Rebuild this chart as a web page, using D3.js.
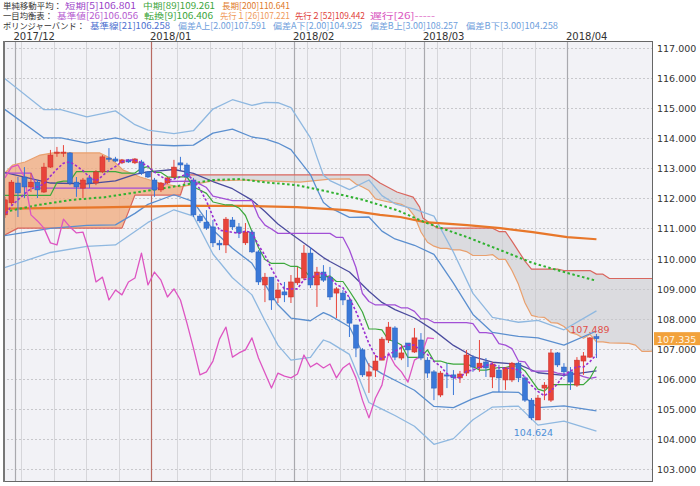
<!DOCTYPE html>
<html><head><meta charset="utf-8">
<script src="https://cdn.jsdelivr.net/npm/d3@7"></script>
<style>
body{margin:0;background:#fff;}
svg{display:block;font-family:"Noto Sans CJK JP","Noto Sans",sans-serif;}
</style></head><body>
<svg id="c" width="700" height="486"></svg>
<script>
// ---------------- data ----------------
const monthLabels = ["2017/12","2018/01","2018/02","2018/03","2018/04"];
const monthStart = [2, 23, 45, 65, 87];
const weekStart = [3, 8, 13, 18, 27, 32, 37, 42, 47, 52, 57, 62, 67, 72, 77, 82];
const yTicks = [103,104,105,106,107,108,109,110,111,112,113,114,115,116,117];

const open = [111.45,111.85,112.51,112.71,112.38,112.54,112.21,113.04,113.51,113.51,113.51,112.54,112.34,112.68,112.51,112.88,113.34,113.31,113.18,113.28,113.18,113.21,112.88,112.61,112.28,112.51,112.71,113.18,113.11,112.61,111.41,111.21,111.05,110.51,110.45,111.28,111.05,110.52,110.88,110.22,109.12,109.38,108.69,108.89,108.72,109.19,109.35,110.18,109.12,109.55,109.38,108.85,108.85,108.62,107.79,106.96,106.09,106.29,106.62,107.29,107.69,106.69,107.19,106.89,107.29,106.62,106.23,105.46,106.13,106.13,106.03,106.19,106.72,106.36,106.56,106.06,106.29,105.96,105.96,106.52,106.03,105.29,104.63,105.69,105.29,106.86,106.39,106.23,105.79,106.59,106.72,107.40];
const high = [112.05,112.61,112.71,113.04,112.84,112.61,113.18,113.61,113.71,113.77,113.54,112.71,112.68,112.78,112.94,113.44,113.67,113.38,113.31,113.31,113.34,113.28,112.91,112.68,112.54,112.71,113.28,113.38,113.18,112.68,111.48,111.61,111.28,110.61,111.38,111.38,111.18,111.18,110.95,110.28,109.52,109.38,109.19,109.22,109.45,109.72,110.45,110.38,109.72,109.78,109.72,109.05,108.95,108.72,107.79,107.02,106.52,106.79,107.39,107.89,107.75,107.12,107.19,107.69,107.52,106.72,106.29,106.26,106.52,106.29,106.26,106.96,106.79,107.29,106.69,106.56,106.46,106.39,106.56,106.56,106.09,105.36,105.46,105.89,106.99,106.89,106.52,106.39,106.72,106.89,107.39,107.489];
const low = [111.35,111.78,111.38,112.01,112.21,112.01,112.18,113.01,113.38,113.38,112.44,112.05,112.01,112.34,112.44,112.84,113.21,113.21,113.14,113.18,113.14,112.78,112.68,112.05,112.21,112.48,112.68,112.94,112.68,111.38,111.18,110.95,110.38,110.28,110.18,110.95,110.68,110.45,110.18,109.12,108.55,108.29,108.52,108.55,108.52,109.12,109.28,109.02,108.39,109.22,108.62,108.02,108.45,107.39,106.72,106.06,105.53,106.06,106.62,107.19,106.62,106.62,106.39,106.86,106.62,106.03,105.29,105.39,105.69,105.46,105.86,106.09,106.23,106.23,106.06,105.69,105.56,105.63,105.89,105.89,105.23,104.624,104.63,105.29,105.23,106.39,106.06,105.63,105.73,106.13,106.69,106.69];
const close = [111.95,112.54,112.18,112.38,112.54,112.28,113.04,113.44,113.54,113.54,112.51,112.38,112.61,112.51,112.88,113.38,113.31,113.24,113.28,113.21,113.31,112.84,112.71,112.28,112.51,112.68,113.04,113.11,112.71,111.45,111.25,111.01,110.52,110.45,111.31,111.05,110.85,110.88,110.22,109.22,109.38,108.62,108.95,108.79,109.22,109.35,110.18,109.12,109.55,109.28,108.72,108.99,108.62,107.85,107.02,106.13,106.23,106.59,107.32,107.72,106.72,106.86,106.96,107.36,106.69,106.19,105.69,106.19,106.09,106.03,106.16,106.79,106.39,106.52,106.36,106.49,106.03,106.36,106.52,106.03,105.29,104.70,105.36,105.79,106.86,106.46,106.23,105.89,106.62,106.76,107.36,107.335];
const chikouShift = 25;
const hiLabelIdx = 91, loLabelIdx = 81;

// indicator readings: [candle index, price]
const sma5 = [[0.2,111.5],[1,111.75],[2,111.95],[3,112.15],[4,112.32],[5,112.38],[6,112.48],[7,112.74],[8,112.97],[9,113.17],[10,113.21],[11,113.08],[12,112.92],[13,112.71],[14,112.58],[15,112.75],[16,112.94],[17,113.06],[18,113.22],[19,113.28],[20,113.27],[21,113.18],[22,113.07],[23,112.87],[24,112.73],[25,112.60],[26,112.64],[27,112.72],[28,112.81],[29,112.60],[30,112.31],[31,111.91],[32,111.39],[33,110.94],[34,110.91],[35,110.87],[36,110.84],[37,110.91],[38,110.86],[39,110.44],[40,110.11],[41,109.66],[42,109.28],[43,108.99],[44,108.99],[45,108.99],[46,109.30],[47,109.33],[48,109.48],[49,109.50],[50,109.37],[51,109.13],[52,109.03],[53,108.69],[54,108.24],[55,107.72],[56,107.17],[57,106.76],[58,106.66],[59,106.80],[60,106.92],[61,107.04],[62,107.12],[63,107.12],[64,106.92],[65,106.81],[66,106.58],[67,106.42],[68,106.17],[69,106.04],[70,106.03],[71,106.25],[72,106.29],[73,106.38],[74,106.44],[75,106.51],[76,106.36],[77,106.35],[78,106.35],[79,106.29],[80,106.05],[81,105.78],[82,105.58],[83,105.43],[84,105.60],[85,105.83],[86,106.14],[87,106.25],[88,106.41],[89,106.39],[90,106.57],[91,106.80]];
const sma89 = [[0,111.55],[5.1,111.78],[10.3,111.95],[15.4,112.04],[20.5,112.21],[25.7,112.38],[32,112.61],[36.2,112.64],[39.7,112.54],[44.9,112.44],[50,112.21],[55.1,111.95],[60.3,111.61],[64.9,111.18],[71.1,110.71],[76.2,110.28],[81.2,109.85],[86.5,109.52],[91,109.26]];
const sma200 = [[0,111.66],[14.6,111.70],[26.9,111.75],[37.2,111.75],[44.9,111.71],[52.6,111.61],[57.7,111.45],[60.8,111.38],[64.6,111.21],[71.1,111.11],[76.2,111.01],[81.2,110.88],[86.5,110.71],[91,110.64]];
const tenkan = [[0,112.1],[7,112.1],[8,112.53],[9,112.575],[10,112.575],[11,112.89],[17,112.89],[18,112.84],[20,112.84],[21,113.005],[22,113.055],[23,112.86],[24,112.86],[25,112.715],[26,112.695],[27,112.715],[28,112.715],[29,112.38],[30,112.28],[31,112.165],[32,111.88],[33,111.83],[34,111.78],[35,111.78],[36,111.68],[37,111.43],[38,110.895],[39,110.365],[40,109.965],[41,109.835],[43,109.835],[44,109.735],[45,109.735],[46,109.62],[47,109.37],[49,109.37],[50,109.42],[51,109.235],[52,109.235],[53,108.92],[54,108.585],[55,108.22],[56,107.655],[57,107.655],[58,107.625],[59,107.29],[60,107.24],[61,107.125],[62,106.71],[64,106.71],[65,106.96],[66,106.59],[67,106.59],[68,106.52],[69,106.49],[71,106.49],[72,106.405],[73,106.29],[74,106.29],[75,106.34],[76,106.375],[77,106.375],[78,106.425],[79,106.425],[80,106.26],[81,105.957],[82,105.657],[83,105.592],[84,105.807],[89,105.807],[90,106.01],[91,106.406]];
const kijun = [[0,112.84],[4,112.84],[5,112.34],[24,112.34],[25,112.56],[29,112.575],[30,112.475],[31,112.36],[32,112.075],[33,112.025],[34,111.975],[35,111.925],[38,111.925],[39,111.395],[40,111.11],[41,110.98],[42,110.835],[50,110.835],[51,110.70],[52,110.70],[53,110.285],[54,109.70],[55,108.835],[56,108.57],[57,108.455],[60,108.455],[61,108.355],[62,108.355],[63,108.24],[64,107.99],[65,107.99],[66,107.87],[71,107.87],[72,107.835],[73,107.535],[74,107.535],[75,107.505],[76,107.17],[77,107.12],[78,107.005],[79,106.59],[80,106.56],[81,106.257],[84,106.257],[85,106.187],[86,106.157],[88,106.157],[89,106.07],[90,106.01],[91,106.056]];
const senkouA = [[-0.3,112.78],[1.2,113.11],[3.1,113.21],[5.4,113.44],[7.4,113.51],[14.6,113.51],[16.2,113.34],[18.2,112.94],[20.8,112.71],[23.8,112.51],[26.9,112.38],[32,112.58],[37.2,112.61],[45.4,112.54],[50,112.64],[53,112.645],[54,112.48],[55,112.38],[56,112.26],[57,111.98],[58,111.93],[59,111.88],[60,111.85],[61,111.80],[62,111.68],[63,111.41],[64,110.88],[65,110.54],[66,110.41],[67,110.335],[68,110.335],[69,110.285],[70,110.285],[71,110.23],[72,110.10],[74,110.10],[75,110.13],[76,109.97],[77,109.97],[78,109.60],[79,109.14],[80,108.53],[81,108.11],[82,108.055],[83,108.04],[84,107.87],[85,107.85],[86,107.74],[87,107.53],[88,107.475],[89,107.35],[90,107.475],[91,107.23],[92,107.23],[93,107.195],[96,107.18],[97,107.12],[98,106.91],[99,106.91],[100,106.92]];
const senkouB = [[-0.3,110.75],[2,111.01],[18,111.01],[19,111.55],[20,112.11],[27,112.11],[28,112.78],[56,112.78],[57.7,112.51],[60.3,112.21],[62.8,112.04],[63.8,111.71],[64.3,111.35],[66.5,111.01],[75,111.01],[76,110.895],[77,110.895],[78,110.58],[79,110.245],[80,109.915],[81,109.65],[85,109.65],[86,109.60],[90,109.60],[91,109.48],[92,109.48],[93,109.335],[100,109.335]];
const bbMid = [[-0.3,112.87],[7,112.51],[12.6,112.48],[17,112.58],[20,112.8],[22,112.88],[26,112.96],[29,112.83],[32,112.56],[35,112.32],[38,111.94],[40,111.56],[42,111.15],[44,110.82],[47,110.36],[48,110.19],[49,110.03],[50,109.90],[53,109.55],[56,108.91],[58,108.54],[60,108.30],[63,108.03],[66,107.61],[69,107.11],[72,106.74],[75,106.55],[79,106.48],[82,106.20],[86,106.11],[91,106.26]];
const bbUp2 = [[-0.3,115.0],[6,114.01],[8.6,114.01],[12.6,113.84],[17,114.01],[20,113.86],[22,113.79],[26,113.75],[29,113.77],[32,114.17],[35,114.30],[38,114.04],[40,113.98],[42,113.84],[44,113.62],[47,112.79],[48,112.31],[49,111.86],[50,111.69],[53,111.37],[56,111.38],[58,110.91],[60,110.65],[63,110.44],[66,110.14],[69,109.18],[72,108.14],[75,107.54],[79,107.41],[82,107.36],[86,107.12],[91,107.59]];
const bbUp3 = [[-0.3,116.03],[6,114.95],[8.6,114.95],[12.6,114.71],[17,114.91],[20,114.45],[22,114.27],[26,114.15],[29,114.25],[32,114.97],[35,115.28],[38,115.09],[40,115.19],[42,115.18],[44,115.02],[47,114.01],[48,113.37],[49,112.77],[50,112.59],[53,112.29],[56,112.61],[58,112.09],[60,111.82],[63,111.64],[66,111.41],[69,110.21],[72,108.84],[75,108.04],[79,107.88],[82,107.94],[86,107.63],[91,108.26]];
const bbDn2 = [[-0.3,110.75],[7,111.0],[12.6,111.1],[17,111.12],[20,111.5],[22,111.8],[26,112.12],[29,111.89],[32,110.95],[35,110.34],[38,109.84],[40,109.14],[42,108.46],[44,108.02],[47,107.93],[48,108.07],[49,108.20],[50,108.11],[53,107.73],[56,106.44],[58,106.17],[60,105.95],[63,105.62],[66,105.08],[69,105.04],[72,105.34],[75,105.56],[79,105.55],[82,105.04],[86,105.10],[91,104.93]];
const bbDn3 = [[-0.3,109.68],[7,110.2],[12.6,110.4],[17,110.45],[20,110.9],[22,111.2],[26,111.62],[29,111.41],[32,110.15],[35,109.36],[38,108.79],[40,107.93],[42,107.12],[44,106.62],[47,106.71],[48,107.01],[49,107.29],[50,107.21],[53,106.81],[56,105.21],[58,104.99],[60,104.78],[63,104.42],[66,103.82],[69,104.01],[72,104.64],[75,105.06],[79,105.09],[82,104.46],[86,104.59],[91,104.26]];

const legendRows = [
  [["単純移動平均：",3,62],["短期[5]106.801",65,136],["中期[89]109.261",143,215],["長期[200]110.641",222,290]],
  [["一目均衡表：",3,53],["基準値[26]106.056",57,138],["転換[9]106.406",144,213],["先行１[26]107.221",220,290],["先行２[52]109.442",295,365],["遅行[26]-----",370,435]],
  [["ボリンジャーバンド：",3,85],["基準線[21]106.258",90,170],["偏差A上[2.00]107.591",178,266],["偏差A下[2.00]104.925",273,362],["偏差B上[3.00]108.257",370,458],["偏差B下[3.00]104.258",466,558]]
];
const legendColors = [
  ["#333","#9a3fc8","#3aa53a","#e07a2a"],
  ["#333","#b55ad0","#3aa53a","#ef9a5a","#e0403a","#d955c0"],
  ["#333","#4b6fcf","#6fa0dc","#6fa0dc","#6fa0dc","#6fa0dc"]
];

// ---------------- drawing ----------------
const svg = d3.select("#c");
const L = 3, R = 653, T = 41, B = 482;
const x = d3.scaleLinear().domain([-0.3, 99.7]).range([L, R]);
const y = d3.scaleLinear().domain([103, 117]).range([469, 48]);

svg.append("rect").attr("x",0).attr("y",0).attr("width",700).attr("height",486).attr("fill","#fff");
const defs = svg.append("defs");
defs.append("clipPath").attr("id","plot").append("rect")
  .attr("x",L).attr("y",T).attr("width",R-L).attr("height",B-T);
svg.append("rect").attr("x",L).attr("y",T).attr("width",R-L).attr("height",B-T).attr("fill","#f2f2f6");

const g = svg.append("g").attr("clip-path","url(#plot)");

g.selectAll(".hg").data(yTicks).join("line")
  .attr("x1",L).attr("x2",R).attr("y1",d=>Math.round(y(d))+0.5).attr("y2",d=>Math.round(y(d))+0.5)
  .attr("stroke","#c8c8cc").attr("stroke-dasharray","2,2").attr("stroke-width",1);
g.selectAll(".wg").data(weekStart).join("line")
  .attr("x1",d=>Math.round(x(d)-3)+0.5).attr("x2",d=>Math.round(x(d)-3)+0.5).attr("y1",T).attr("y2",B)
  .attr("stroke","#d6d6da").attr("stroke-width",1);
g.selectAll(".mg").data(monthStart).join("line")
  .attr("x1",d=>Math.round(x(d)-3)+0.5).attr("x2",d=>Math.round(x(d)-3)+0.5).attr("y1",T).attr("y2",B)
  .attr("stroke",(d,i)=>i===1?"#b86a62":"#a9a9ae").attr("stroke-width",1.2);

const lineGen = d3.line().x(d=>x(d[0])).y(d=>y(d[1]));
const belowPath = pts => lineGen(pts) + `L${x(pts[pts.length-1][0])},${B+5}L${x(pts[0][0])},${B+5}Z`;
const abovePath = pts => lineGen(pts) + `L${x(pts[pts.length-1][0])},${T-5}L${x(pts[0][0])},${T-5}Z`;
defs.append("clipPath").attr("id","aboveB").append("path").attr("d",abovePath(senkouB));
defs.append("clipPath").attr("id","aboveA").append("path").attr("d",abovePath(senkouA));
g.append("g").attr("clip-path","url(#aboveB)").append("path").attr("d",belowPath(senkouA))
  .attr("fill","#f0ac82").attr("fill-opacity",0.8);
g.append("g").attr("clip-path","url(#aboveA)").append("path").attr("d",belowPath(senkouB))
  .attr("fill","#c8c8cc").attr("fill-opacity",0.55);

function drawLine(pts, color, w, dash){
  const p = g.append("path").attr("d",lineGen(pts)).attr("fill","none")
    .attr("stroke",color).attr("stroke-width",w).attr("stroke-linejoin","round");
  if(dash) p.attr("stroke-dasharray",dash);
}
drawLine(senkouA,"#e9a06e",1.2);
drawLine(senkouB,"#d9665e",1.2);
drawLine(bbUp3,"#8fb8e0",1.3);
drawLine(bbDn3,"#8fb8e0",1.3);
drawLine(bbUp2,"#5b8fcf",1.3);
drawLine(bbDn2,"#5b8fcf",1.3);
drawLine(bbMid,"#4b4c9e",1.3);
drawLine(sma200,"#e8772a",2.2);
drawLine(sma89,"#2fb12f",2,"2.5,2.5");
drawLine(kijun,"#a24fd6",1.3);
drawLine(tenkan,"#3ca83c",1.2);
const chik = close.map((c,i)=>[i-chikouShift, c]).filter(d=>d[0]>=0);
drawLine(chik,"#dd55c2",1.3);

const idx = d3.range(close.length);
const up = i => close[i] >= open[i];
const upCol = "#e8443a", dnCol = "#3a78d8";
g.selectAll(".wick").data(idx).join("line")
  .attr("x1",i=>x(i)).attr("x2",i=>x(i)).attr("y1",i=>y(high[i])).attr("y2",i=>y(low[i]))
  .attr("stroke",i=>up(i)?upCol:dnCol).attr("stroke-width",1);
g.selectAll(".body").data(idx).join("rect")
  .attr("x",i=>x(i)-2.5).attr("width",5)
  .attr("y",i=>y(Math.max(open[i],close[i])))
  .attr("height",i=>Math.max(1.2, Math.abs(y(open[i])-y(close[i]))))
  .attr("fill",i=>up(i)?upCol:dnCol).attr("stroke",i=>up(i)?"#c8302a":"#2a5fb8").attr("stroke-width",0.5);

drawLine(sma5,"#9a2fd0",1.6,"2.5,2");

svg.append("text").attr("x",x(hiLabelIdx)-6.5).attr("y",y(high[hiLabelIdx])-1).attr("text-anchor","middle")
  .attr("font-family","'DejaVu Sans',sans-serif").attr("font-size",9.5).attr("fill","#e0504a").text(high[hiLabelIdx].toFixed(3));
svg.append("text").attr("x",x(loLabelIdx)+2).attr("y",y(low[loLabelIdx])+16).attr("text-anchor","middle")
  .attr("font-family","'DejaVu Sans',sans-serif").attr("font-size",9.5).attr("fill","#4d8fd6").text(low[loLabelIdx].toFixed(3));

svg.append("rect").attr("x",L+0.5).attr("y",T+0.5).attr("width",R-L-1).attr("height",B-T-1)
  .attr("fill","none").attr("stroke","#666").attr("stroke-width",1);
svg.append("line").attr("x1",L+1).attr("x2",L+1).attr("y1",T).attr("y2",B).attr("stroke","#777").attr("stroke-width",2);

svg.selectAll(".yl").data(yTicks).join("text")
  .attr("x",657).attr("y",d=>y(d)+4).attr("fill","#333")
  .attr("font-family","'DejaVu Sans',sans-serif").attr("font-size",9.5)
  .text(d=>d.toFixed(3));
const last = close[close.length-1];
svg.append("rect").attr("x",654).attr("y",y(last)-6.5).attr("width",46).attr("height",13).attr("fill","#f2a23c");
svg.append("text").attr("x",657).attr("y",y(last)+4).attr("font-family","'DejaVu Sans',sans-serif")
  .attr("font-size",9.5).attr("fill","#fff6e6").text(last.toFixed(3));

svg.selectAll(".ml").data(monthStart).join("text")
  .attr("x",d=>x(d)-4.5).attr("y",39.5).attr("fill","#333")
  .attr("font-family","'DejaVu Sans',sans-serif").attr("font-size",10)
  .text((d,i)=>monthLabels[i]);

legendRows.forEach((row,r)=>{
  row.forEach((s,k)=>{
    svg.append("text").attr("x",s[1]).attr("y",9+r*10).attr("font-size",8.5)
      .attr("textLength",s[2]-s[1]).attr("lengthAdjust","spacingAndGlyphs")
      .attr("fill",legendColors[r][k]).text(s[0]);
  });
});
</script>
</body></html>
